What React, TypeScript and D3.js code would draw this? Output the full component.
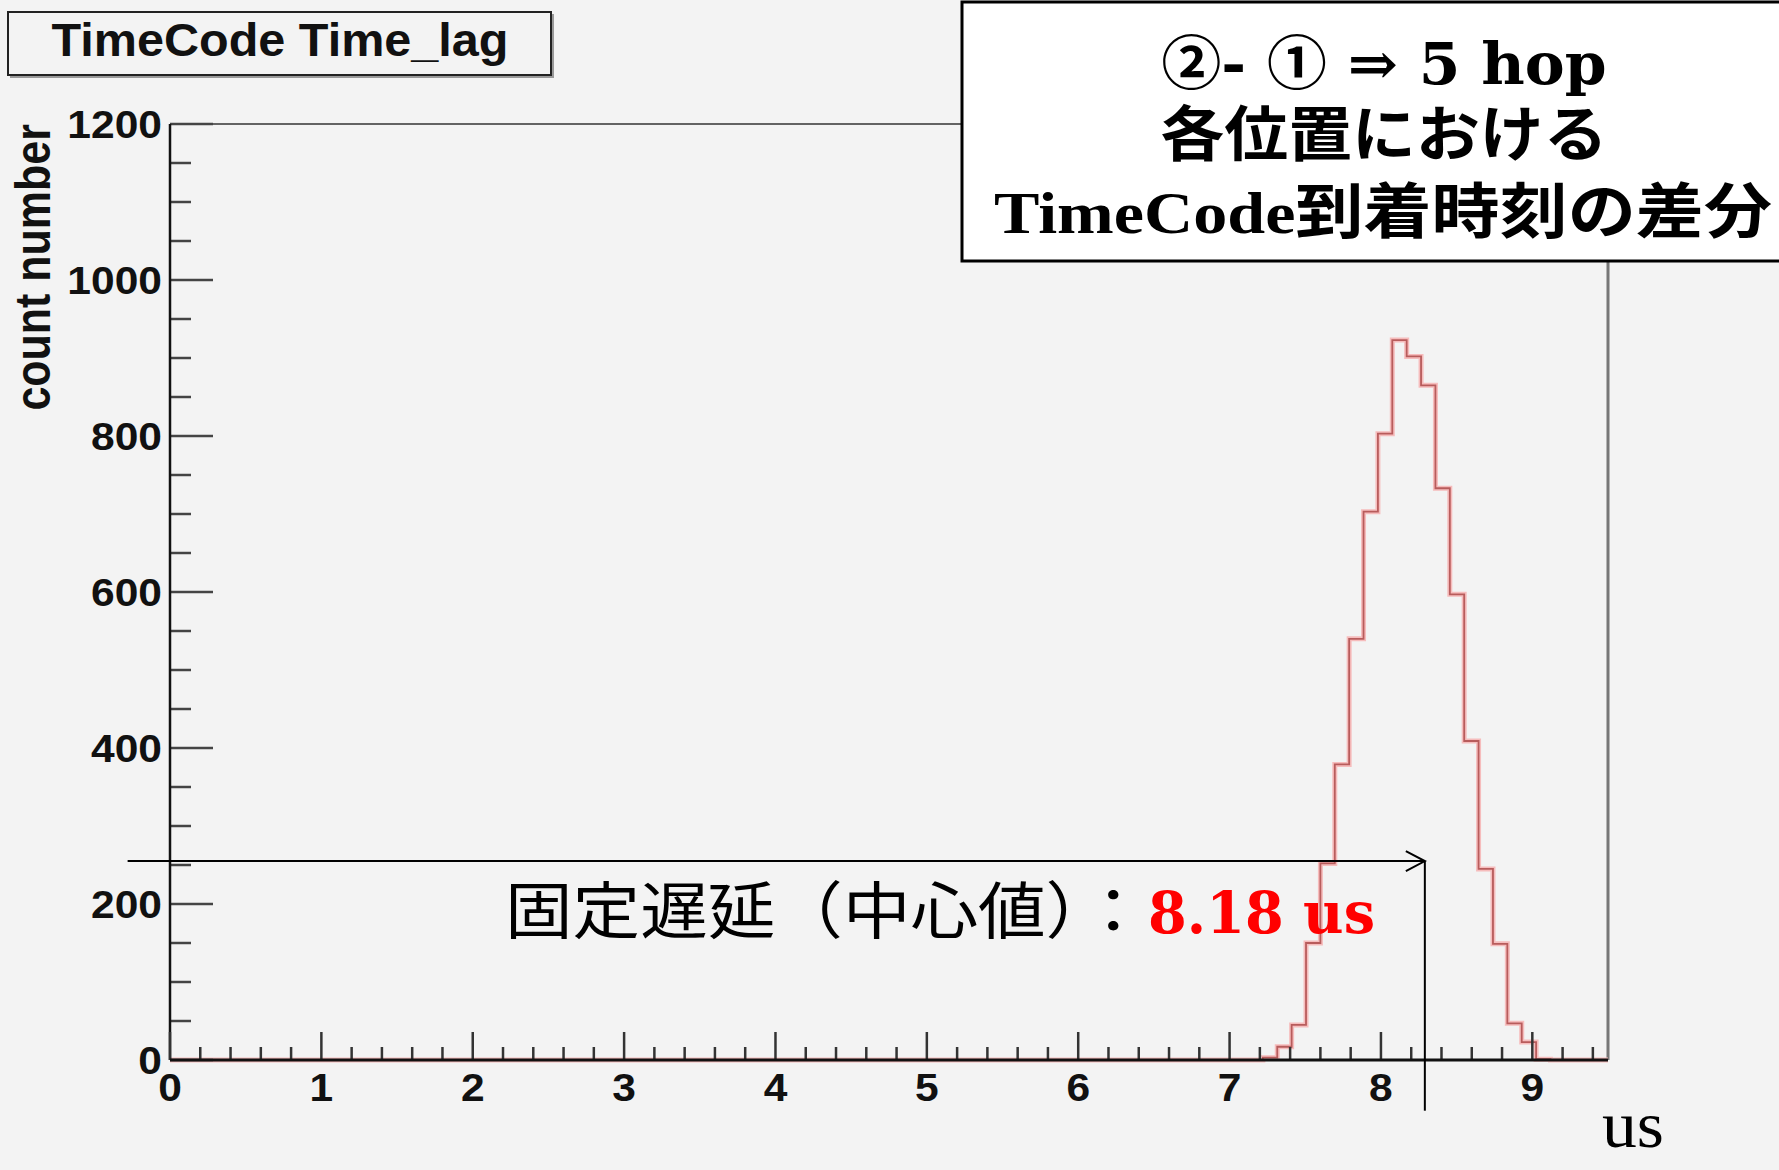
import React, { useEffect, useRef } from 'react';
import * as d3 from 'd3';

// histogram: 100 bins of 0.095 us over [0, 9.5]; only the filled bins are listed
const histRange = [0, 9.5];
const binLowEdges = [7.22, 7.315, 7.41, 7.505, 7.6, 7.695, 7.79, 7.885, 7.98, 8.075,
  8.17, 8.265, 8.36, 8.455, 8.55, 8.645, 8.74, 8.835, 8.93, 9.025];
const binCounts = [3, 17, 45, 150, 252, 379, 540, 703, 803, 923,
  902, 865, 733, 597, 409, 245, 149, 47, 23, 1];
const lastBinHighEdge = 9.12;

const yMajorTicks = [0, 200, 400, 600, 800, 1000, 1200];
const xMajorTicks = [0, 1, 2, 3, 4, 5, 6, 7, 8, 9];

const histTitle = 'TimeCode Time_lag';
const yTitle = 'count number';
const xUnit = 'us';
const boxLines = ['②- ① ⇒ 5 hop', '各位置における', 'TimeCode到着時刻の差分'];
const delayLabel = '固定遅延（中心値）：';
const delayValue = '8.18 us';
// arrow annotation in data coordinates
const arrowY = 255;
const arrowFromX = -0.28;
const arrowToX = 8.29;
const arrowDropY = -65;

const W = 1779;
const H = 1170;

export default function App() {
  const svgRef = useRef(null);

  useEffect(() => {
    const svg = d3.select(svgRef.current);
    svg.selectAll('*').remove();

    const left = 170, right = 1608, top = 124, bottom = 1060;

    const x = d3.scaleLinear().domain(histRange).range([left, right]);
    const y = d3.scaleLinear().domain([0, 1200]).range([bottom, top]);

    svg.append('rect').attr('width', W).attr('height', H).attr('fill', '#f3f3f3');

    const sans = '"Liberation Sans", Arial, Helvetica, sans-serif';
    const stretch = 1.12;

    // frame
    svg.append('line')
      .attr('x1', left).attr('x2', right).attr('y1', top).attr('y2', top)
      .attr('stroke', '#333').attr('stroke-width', 1.5);
    svg.append('line')
      .attr('x1', right).attr('x2', right).attr('y1', top).attr('y2', bottom)
      .attr('stroke', '#777').attr('stroke-width', 3);

    // histogram outline
    const pts = [{ x: histRange[0], v: 0 }]
      .concat(binLowEdges.map((e, i) => ({ x: e, v: binCounts[i] })))
      .concat([{ x: lastBinHighEdge, v: 0 }, { x: histRange[1], v: 0 }]);
    const step = d3.line<any>()
      .x(d => x(d.x))
      .y(d => y(d.v))
      .curve(d3.curveStepAfter);
    svg.append('path').datum(pts)
      .attr('d', step).attr('fill', 'none')
      .attr('stroke', '#f6bcbc').attr('stroke-width', 5);
    svg.append('path').datum(pts)
      .attr('d', step).attr('fill', 'none')
      .attr('stroke', '#b85c5c').attr('stroke-width', 1.8);

    // y axis
    const yMinor = d3.range(0, 1201, 50);
    svg.append('g').selectAll('line').data(yMinor).join('line')
      .attr('x1', left).attr('y1', d => y(d)).attr('y2', d => y(d))
      .attr('x2', d => left + (d % 200 === 0 ? 43 : 21))
      .attr('stroke', '#444').attr('stroke-width', 2.5);
    svg.append('line')
      .attr('x1', left).attr('x2', left).attr('y1', top).attr('y2', bottom)
      .attr('stroke', '#111').attr('stroke-width', 2.5);
    svg.append('g').selectAll('text').data(yMajorTicks).join('text')
      .attr('transform', d => `translate(162,${y(d)}) scale(${stretch},1)`)
      .attr('dy', '0.36em')
      .attr('text-anchor', 'end')
      .attr('font-family', sans).attr('font-weight', 'bold').attr('font-size', 38)
      .attr('fill', '#111')
      .text(d => d);

    // x axis
    const xMinor = d3.range(0, 95).filter(i => i % 2 === 0).map(i => i / 10);
    svg.append('g').selectAll('line').data(xMinor).join('line')
      .attr('x1', d => x(d)).attr('x2', d => x(d)).attr('y1', bottom)
      .attr('y2', d => bottom - (Math.abs(d - Math.round(d)) < 1e-6 ? 28 : 13))
      .attr('stroke', '#333').attr('stroke-width', 2.5);
    svg.append('line')
      .attr('x1', left).attr('x2', right).attr('y1', bottom).attr('y2', bottom)
      .attr('stroke', '#111').attr('stroke-width', 3);
    svg.append('g').selectAll('text').data(xMajorTicks).join('text')
      .attr('transform', d => `translate(${x(d)},1101) scale(${stretch},1)`)
      .attr('text-anchor', 'middle')
      .attr('font-family', sans).attr('font-weight', 'bold').attr('font-size', 38)
      .attr('fill', '#111')
      .text(d => d);

    // y title
    svg.append('text')
      .attr('transform', `translate(50,${top}) scale(1.15,1) rotate(-90)`)
      .attr('text-anchor', 'end')
      .attr('font-family', sans).attr('font-weight', 'bold').attr('font-size', 43)
      .attr('fill', '#111')
      .text(yTitle);

    // histogram title box
    svg.append('rect')
      .attr('x', 10).attr('y', 14).attr('width', 544).attr('height', 64)
      .attr('fill', '#999');
    svg.append('rect')
      .attr('x', 8).attr('y', 12).attr('width', 543).attr('height', 63)
      .attr('fill', '#f3f3f3').attr('stroke', '#222').attr('stroke-width', 2);
    svg.append('text')
      .attr('x', 280).attr('y', 56)
      .attr('text-anchor', 'middle')
      .attr('font-family', sans).attr('font-weight', 'bold').attr('font-size', 46)
      .attr('textLength', 457).attr('lengthAdjust', 'spacingAndGlyphs')
      .attr('fill', '#111')
      .text(histTitle);

    // arrow annotation
    const ay = y(arrowY);
    const ax = x(arrowToX);
    svg.append('line')
      .attr('x1', x(arrowFromX)).attr('x2', ax).attr('y1', ay).attr('y2', ay)
      .attr('stroke', '#000').attr('stroke-width', 2);
    svg.append('polyline')
      .attr('points', `${ax - 19},${ay - 10} ${ax},${ay} ${ax - 19},${ay + 10}`)
      .attr('fill', 'none').attr('stroke', '#000').attr('stroke-width', 2);
    svg.append('line')
      .attr('x1', ax).attr('x2', ax).attr('y1', ay).attr('y2', y(arrowDropY))
      .attr('stroke', '#000').attr('stroke-width', 2);

    svg.append('text')
      .attr('x', 505).attr('y', 934)
      .attr('font-family', '"Noto Sans CJK JP", sans-serif').attr('font-size', 62)
      .attr('textLength', 642).attr('lengthAdjust', 'spacingAndGlyphs')
      .attr('fill', '#000')
      .text(delayLabel);
    svg.append('text')
      .attr('x', 1148).attr('y', 933)
      .attr('font-family', '"DejaVu Serif", serif').attr('font-weight', 'bold').attr('font-size', 57)
      .attr('textLength', 227).attr('lengthAdjust', 'spacingAndGlyphs')
      .attr('fill', '#ff0000')
      .text(delayValue);

    // unit label
    svg.append('text')
      .attr('x', 1602).attr('y', 1147)
      .attr('font-family', '"Liberation Serif", serif').attr('font-size', 66)
      .attr('textLength', 62).attr('lengthAdjust', 'spacingAndGlyphs')
      .attr('fill', '#000')
      .text(xUnit);

    // slide note box
    svg.append('rect')
      .attr('x', 962).attr('y', 2).attr('width', 850).attr('height', 259)
      .attr('fill', '#fff').attr('stroke', '#000').attr('stroke-width', 3);
    const noteFont = '"DejaVu Serif", "Noto Sans CJK JP", serif';
    const lineSpec = [
      { y: 84, len: 445, cx: 1384, font: noteFont, size: 58 },
      { y: 156, len: 447, cx: 1384, font: '"Noto Sans CJK JP", sans-serif', size: 60 },
      { y: 233, len: 778, cx: 1383, font: '"Liberation Serif", "Noto Sans CJK JP", serif', size: 60 },
    ];
    svg.append('g').selectAll('text').data(boxLines).join('text')
      .attr('x', (d, i) => lineSpec[i].cx).attr('y', (d, i) => lineSpec[i].y)
      .attr('text-anchor', 'middle')
      .attr('font-family', (d, i) => lineSpec[i].font)
      .attr('font-weight', 'bold').attr('font-size', (d, i) => lineSpec[i].size)
      .attr('textLength', (d, i) => lineSpec[i].len).attr('lengthAdjust', 'spacingAndGlyphs')
      .attr('fill', '#000')
      .text(d => d);
  }, []);

  return (
    <svg ref={svgRef} width={W} height={H}
      style={{ position: 'absolute', left: 0, top: 0, display: 'block' }} />
  );
}
